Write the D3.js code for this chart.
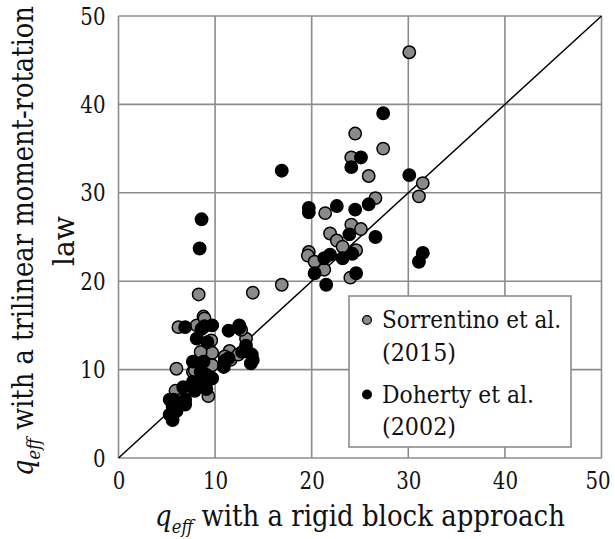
<!DOCTYPE html>
<html>
<head>
<meta charset="utf-8">
<script src="https://cdn.jsdelivr.net/npm/d3@7"></script>
<style>
  html, body { margin: 0; padding: 0; background: #fff; }
  svg { display: block; }
</style>
</head>
<body>
<svg id="chart" width="615" height="539"></svg>
<script>
// q_eff values: [rigid block approach, trilinear moment-rotation law]
const sorrentino = [
  [6.0,10.1],[8.3,18.5],[13.9,18.7],[16.9,19.6],[8.8,16.0],[6.2,14.8],[8.1,15.0],
  [9.6,13.3],[9.7,11.9],[11.5,12.1],[11.6,11.1],[13.2,13.5],[13.2,12.1],[12.4,11.7],
  [7.7,9.75],[9.3,7.0],[5.9,7.6],[9.7,10.5],[7.9,9.9],[9.0,8.2],[11.0,11.5],[6.5,6.6],
  [8.5,12.0],[12.7,14.5],[8.9,15.8],
  [19.7,23.3],[19.6,22.9],[20.3,22.2],[21.3,21.3],[21.4,27.7],[21.9,25.4],[22.6,24.6],
  [23.2,23.9],[24.1,26.4],[25.1,25.9],[24.6,23.5],[24.0,20.4],[26.6,29.4],[25.9,31.9],
  [31.5,31.1],[31.1,29.6],[24.1,34.0],[27.4,35.0],[24.5,36.7],[30.1,45.9]
];
const doherty = [
  [8.6,27.0],[8.4,23.7],[16.9,32.5],[6.9,14.8],[8.1,13.5],[8.6,14.6],[9.7,15.0],
  [9.2,13.1],[11.4,14.4],[12.5,15.0],[13.2,12.7],[13.8,11.7],[13.7,10.7],[13.9,11.1],
  [10.9,10.3],[11.4,11.3],[7.7,10.9],[8.8,10.9],[8.5,9.75],[9.7,9.0],[8.7,8.6],
  [7.7,8.6],[7.9,7.6],[9.1,7.8],[6.7,8.0],[6.9,6.6],[5.7,6.6],[5.3,6.6],[5.6,5.85],
  [6.0,5.3],[5.6,4.3],[5.3,4.9],[6.9,6.05],[9.1,9.4],[11.0,11.0],[12.8,12.0],
  [12.5,14.7],[8.9,14.9],
  [19.7,28.3],[19.7,27.8],[22.6,28.5],[24.5,28.1],[25.9,28.7],[20.3,20.9],[21.5,19.6],
  [23.2,22.6],[21.9,23.0],[21.3,22.6],[23.9,25.3],[26.6,25.0],[24.2,23.1],[24.6,20.9],
  [30.1,32.0],[31.5,23.2],[31.1,22.2],[24.1,32.9],[25.1,34.0],[27.4,39.0]
];
const ticks = [0, 10, 20, 30, 40, 50];
const equality = [[0, 0], [50, 50]];
const legendItems = [
  { lines: ["Sorrentino et al.", "(2015)"], widths: [179, 74], fill: "#8a8a8a" },
  { lines: ["Doherty et al.", "(2002)"], widths: [152, 74], fill: "#000" }
];

const FONT = "DejaVu Serif";
const INK = "#111";
const svg = d3.select("#chart").attr("font-family", FONT);
const x = d3.scaleLinear().domain([0, 50]).range([118.5, 601.5]);
const y = d3.scaleLinear().domain([0, 50]).range([458, 16]);
const grid = "#8c8c8c";

// squeeze a text node horizontally to a given advance width
function fit(sel, width) {
  return sel.attr("textLength", width).attr("lengthAdjust", "spacingAndGlyphs");
}

// gridlines
const g = svg.append("g");
g.selectAll(".vx").data(ticks).join("line")
  .attr("x1", d => x(d)).attr("x2", d => x(d))
  .attr("y1", y(0)).attr("y2", y(50))
  .attr("stroke", grid).attr("stroke-width", 1.6);
g.selectAll(".hy").data(ticks).join("line")
  .attr("y1", d => y(d)).attr("y2", d => y(d))
  .attr("x1", x(0)).attr("x2", x(50))
  .attr("stroke", grid).attr("stroke-width", 1.6);

// tick labels
const xAxis = d3.axisBottom(x).tickValues(ticks).tickSize(0).tickPadding(13);
const yAxis = d3.axisLeft(y).tickValues(ticks).tickSize(0).tickPadding(13);
const ax = svg.append("g").attr("transform", `translate(0,${y(0)})`).call(xAxis);
const ay = svg.append("g").attr("transform", `translate(${x(0)},0)`).call(yAxis);
[ax, ay].forEach(a => {
  a.attr("font-family", FONT).attr("font-size", 25);
  a.select(".domain").remove();
  a.selectAll("text").attr("fill", INK)
    .each(function(d) { fit(d3.select(this), String(d).length * 12.6); });
});
// keep the last x label inside the frame
ax.selectAll(".tick").filter(d => d === 50).select("text").attr("dx", -4);

// 1:1 line
svg.append("path").datum(equality)
  .attr("d", d3.line().x(d => x(d[0])).y(d => y(d[1])))
  .attr("stroke", "#000").attr("stroke-width", 1.5).attr("fill", "none");

// points
function drawSeries(data, fill) {
  svg.append("g").selectAll("circle").data(data).join("circle")
    .attr("cx", d => x(d[0])).attr("cy", d => y(d[1])).attr("r", 6.2)
    .attr("fill", fill).attr("stroke", "#000").attr("stroke-width", 1.5);
}
drawSeries(sorrentino, "#8a8a8a");
drawSeries(doherty, "#000");

// legend
const lg = svg.append("g");
lg.append("rect").attr("x", 349).attr("y", 296).attr("width", 222).attr("height", 151)
  .attr("fill", "#fff").attr("stroke", grid).attr("stroke-width", 1.6);
legendItems.forEach((it, i) => {
  const base = 328 + i * 74.5;
  lg.append("circle").attr("cx", 367).attr("cy", base - 8).attr("r", 4.4)
    .attr("fill", it.fill).attr("stroke", "#000").attr("stroke-width", 1.2);
  it.lines.forEach((t, j) => {
    fit(lg.append("text").attr("x", 382).attr("y", base + j * 32.5)
      .attr("font-size", 25).attr("fill", INK).text(t), it.widths[j]);
  });
});

// axis title with italic q and subscript "eff"
function qTitle(parent, rest, width) {
  const t = parent.append("text").attr("text-anchor", "middle")
    .attr("font-size", 30).attr("fill", INK);
  t.append("tspan").attr("font-style", "italic").text("q");
  t.append("tspan").attr("font-style", "italic").attr("font-size", 19).attr("dy", 7).text("eff");
  t.append("tspan").attr("dy", -7).text(rest);
  const w = t.node().getComputedTextLength();
  parent.attr("transform", parent.attr("transform") + ` scale(${width / w},1)`);
  return t;
}

const xg = svg.append("g").attr("transform", "translate(360,526)");
qTitle(xg, " with a rigid block approach", 410);

const yg = svg.append("g").attr("transform", "translate(33,241) rotate(-90)");
qTitle(yg, " with a trilinear moment-rotation", 470);
fit(svg.append("g").attr("transform", "translate(74,241) rotate(-90)")
  .append("text").attr("text-anchor", "middle").attr("font-size", 30)
  .attr("fill", INK).text("law"), 50);
</script>
</body>
</html>
